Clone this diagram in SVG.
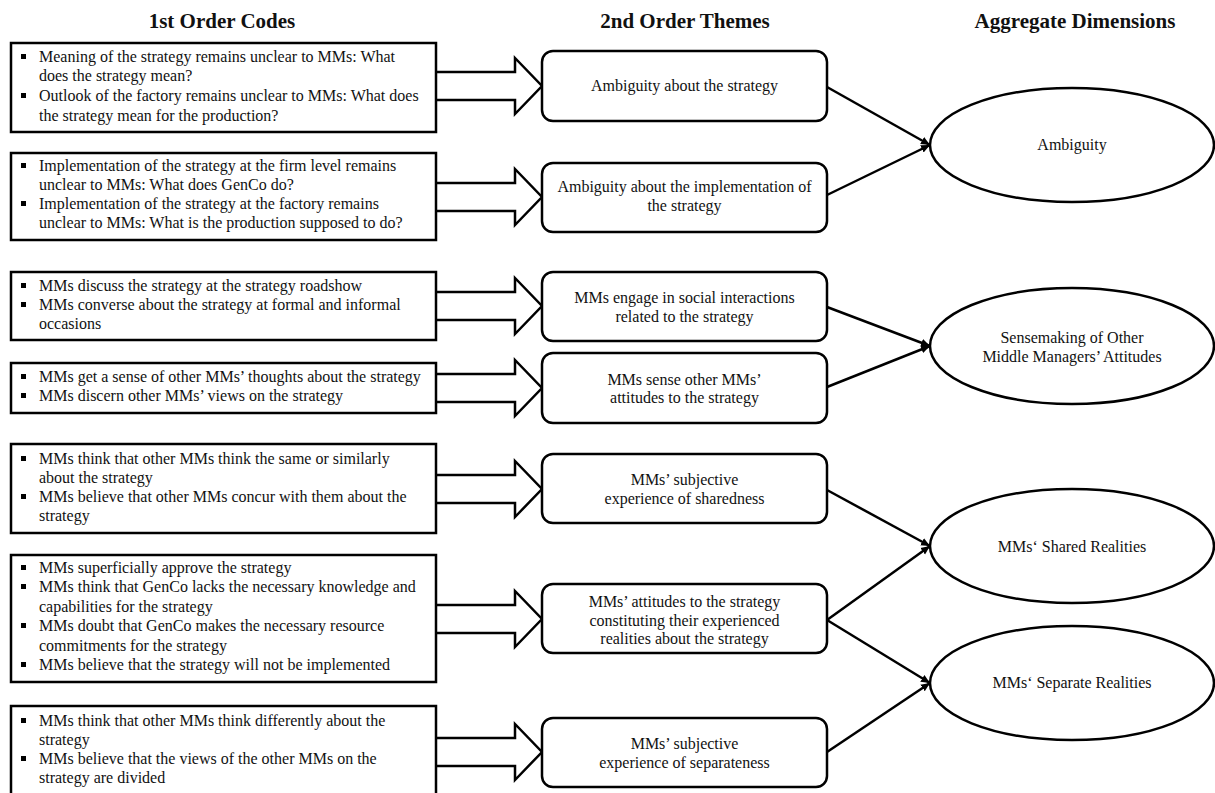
<svg xmlns="http://www.w3.org/2000/svg" width="1215" height="793" viewBox="0 0 1215 793">
<style>
text{font-family:"Liberation Serif","Times New Roman",serif;font-size:16px;fill:#111}
.h{font-size:21px;font-weight:bold;text-anchor:middle}
.c{text-anchor:middle}
.box{fill:#fff;stroke:#000;stroke-width:2.5}
.rbox{fill:#fff;stroke:#000;stroke-width:2.5}
.ell{fill:#fff;stroke:#000;stroke-width:2.5}
.blk{fill:#fff;stroke:#000;stroke-width:2.5;stroke-linejoin:miter}
.ln{fill:none;stroke:#000;stroke-width:2.5;marker-end:url(#ah)}
.b{fill:#000}
</style>
<defs>
<marker id="ah" markerUnits="userSpaceOnUse" markerWidth="10" markerHeight="10" refX="9" refY="5" orient="auto">
<path d="M0,1 L9,5 L0,9 z" fill="#000"/>
</marker>
</defs>
<rect width="1215" height="793" fill="#fff"/>
<g id="headers">
<text class="h" x="222" y="28">1st Order Codes</text>
<text class="h" x="685" y="28">2nd Order Themes</text>
<text class="h" x="1075" y="28">Aggregate Dimensions</text>
</g>
<g id="connectors">
<polyline class="blk" points="436,72 515,72 515,58 542,86 515,114 515,100 436,100"/>
<polyline class="blk" points="436,183 515,183 515,169 542,197 515,225 515,211 436,211"/>
<polyline class="blk" points="436,292 515,292 515,278 542,306 515,334 515,320 436,320"/>
<polyline class="blk" points="436,374 515,374 515,360 542,388 515,416 515,402 436,402"/>
<polyline class="blk" points="436,475 515,475 515,461 542,489 515,517 515,503 436,503"/>
<polyline class="blk" points="436,605 515,605 515,591 542,619 515,647 515,633 436,633"/>
<polyline class="blk" points="436,738 515,738 515,724 542,752 515,780 515,766 436,766"/>
<line class="ln" x1="827" y1="87" x2="930" y2="145"/>
<line class="ln" x1="827" y1="195" x2="930" y2="145"/>
<line class="ln" x1="827" y1="307" x2="930" y2="346"/>
<line class="ln" x1="827" y1="387" x2="930" y2="346"/>
<line class="ln" x1="827" y1="490" x2="930" y2="546"/>
<line class="ln" x1="827" y1="620" x2="930" y2="546"/>
<line class="ln" x1="827" y1="620" x2="930" y2="683"/>
<line class="ln" x1="827" y1="752" x2="930" y2="683"/>
</g>
<g id="code1">
<rect class="box" x="11" y="43" width="425" height="89"/>
<rect class="b" x="21" y="54" width="5" height="5"/>
<rect class="b" x="21" y="93" width="5" height="5"/>
<text x="39" y="62">Meaning of the strategy remains unclear to MMs: What<tspan x="39" y="81">does the strategy mean?</tspan><tspan x="39" y="101">Outlook of the factory remains unclear to MMs: What does</tspan><tspan x="39" y="121">the strategy mean for the production?</tspan></text>
</g>
<g id="code2">
<rect class="box" x="11" y="153" width="425" height="87"/>
<rect class="b" x="21" y="163" width="5" height="5"/>
<rect class="b" x="21" y="201" width="5" height="5"/>
<text x="39" y="171">Implementation of the strategy at the firm level remains<tspan x="39" y="190">unclear to MMs: What does GenCo do?</tspan><tspan x="39" y="209">Implementation of the strategy at the factory remains</tspan><tspan x="39" y="228">unclear to MMs: What is the production supposed to do?</tspan></text>
</g>
<g id="code3">
<rect class="box" x="11" y="272" width="425" height="68"/>
<rect class="b" x="21" y="283" width="5" height="5"/>
<rect class="b" x="21" y="302" width="5" height="5"/>
<text x="39" y="291">MMs discuss the strategy at the strategy roadshow<tspan x="39" y="310">MMs converse about the strategy at formal and informal</tspan><tspan x="39" y="329">occasions</tspan></text>
</g>
<g id="code4">
<rect class="box" x="11" y="363" width="425" height="50"/>
<rect class="b" x="21" y="374" width="5" height="5"/>
<rect class="b" x="21" y="393" width="5" height="5"/>
<text x="39" y="382">MMs get a sense of other MMs’ thoughts about the strategy<tspan x="39" y="401">MMs discern other MMs’ views on the strategy</tspan></text>
</g>
<g id="code5">
<rect class="box" x="11" y="444" width="425" height="89"/>
<rect class="b" x="21" y="456" width="5" height="5"/>
<rect class="b" x="21" y="494" width="5" height="5"/>
<text x="39" y="464">MMs think that other MMs think the same or similarly<tspan x="39" y="483">about the strategy</tspan><tspan x="39" y="502">MMs believe that other MMs concur with them about the</tspan><tspan x="39" y="521">strategy</tspan></text>
</g>
<g id="code6">
<rect class="box" x="11" y="555" width="425" height="127"/>
<rect class="b" x="21" y="565" width="5" height="5"/>
<rect class="b" x="21" y="584" width="5" height="5"/>
<rect class="b" x="21" y="623" width="5" height="5"/>
<rect class="b" x="21" y="662" width="5" height="5"/>
<text x="39" y="573">MMs superficially approve the strategy<tspan x="39" y="592">MMs think that GenCo lacks the necessary knowledge and</tspan><tspan x="39" y="612">capabilities for the strategy</tspan><tspan x="39" y="631">MMs doubt that GenCo makes the necessary resource</tspan><tspan x="39" y="651">commitments for the strategy</tspan><tspan x="39" y="670">MMs believe that the strategy will not be implemented</tspan></text>
</g>
<g id="code7">
<rect class="box" x="11" y="706" width="425" height="92"/>
<rect class="b" x="21" y="718" width="5" height="5"/>
<rect class="b" x="21" y="756" width="5" height="5"/>
<text x="39" y="726">MMs think that other MMs think differently about the<tspan x="39" y="745">strategy</tspan><tspan x="39" y="764">MMs believe that the views of the other MMs on the</tspan><tspan x="39" y="783">strategy are divided</tspan></text>
</g>
<g id="theme1">
<rect class="rbox" x="542" y="51" width="285" height="70" rx="11"/>
<text class="c" x="684.5" y="91">Ambiguity about the strategy</text>
</g>
<g id="theme2">
<rect class="rbox" x="542" y="163" width="285" height="69" rx="11"/>
<text class="c" x="684.5" y="192">Ambiguity about the implementation of<tspan x="684.5" y="211">the strategy</tspan></text>
</g>
<g id="theme3">
<rect class="rbox" x="542" y="272" width="285" height="69" rx="11"/>
<text class="c" x="684.5" y="303">MMs engage in social interactions<tspan x="684.5" y="322">related to the strategy</tspan></text>
</g>
<g id="theme4">
<rect class="rbox" x="542" y="353" width="285" height="70" rx="11"/>
<text class="c" x="684.5" y="385">MMs sense other MMs’<tspan x="684.5" y="403">attitudes to the strategy</tspan></text>
</g>
<g id="theme5">
<rect class="rbox" x="542" y="454" width="285" height="69" rx="11"/>
<text class="c" x="684.5" y="485">MMs’ subjective<tspan x="684.5" y="504">experience of sharedness</tspan></text>
</g>
<g id="theme6">
<rect class="rbox" x="542" y="584" width="285" height="69" rx="11"/>
<text class="c" x="684.5" y="607">MMs’ attitudes to the strategy<tspan x="684.5" y="626">constituting their experienced</tspan><tspan x="684.5" y="644">realities about the strategy</tspan></text>
</g>
<g id="theme7">
<rect class="rbox" x="542" y="718" width="285" height="69" rx="11"/>
<text class="c" x="684.5" y="749">MMs’ subjective<tspan x="684.5" y="768">experience of separateness</tspan></text>
</g>
<g id="dim1">
<ellipse class="ell" cx="1072" cy="145" rx="142" ry="57"/>
<text class="c" x="1072" y="150">Ambiguity</text>
</g>
<g id="dim2">
<ellipse class="ell" cx="1072" cy="346" rx="142" ry="58"/>
<text class="c" x="1072" y="343">Sensemaking of Other<tspan x="1072" y="362">Middle Managers’ Attitudes</tspan></text>
</g>
<g id="dim3">
<ellipse class="ell" cx="1072" cy="546" rx="142" ry="57"/>
<text class="c" x="1072" y="552">MMs‘ Shared Realities</text>
</g>
<g id="dim4">
<ellipse class="ell" cx="1072" cy="683" rx="142" ry="57"/>
<text class="c" x="1072" y="688">MMs‘ Separate Realities</text>
</g>
</svg>
